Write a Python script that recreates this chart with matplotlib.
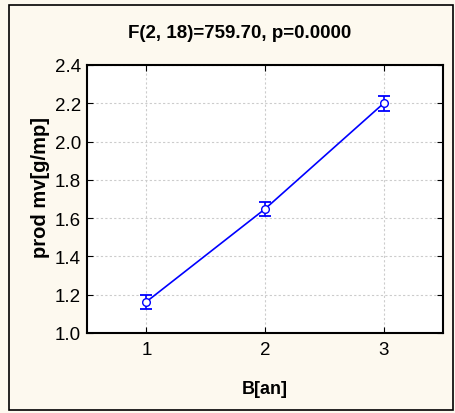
import matplotlib
matplotlib.use("Agg")
import matplotlib.pyplot as plt
from matplotlib.patches import Rectangle

# data
levels = [1, 2, 3]
means = [1.163, 1.648, 2.200]
errs = [0.038, 0.038, 0.040]
yticks = [1.0, 1.2, 1.4, 1.6, 1.8, 2.0, 2.2, 2.4]

plt.rcParams['font.family'] = ['Liberation Sans', 'DejaVu Sans']

W, H = 455, 414
fig = plt.figure(figsize=(W / 100, H / 100), dpi=100)
fig.patch.set_facecolor('#fdf9ef')

# outer frame
fig.patches.append(Rectangle((9 / W, 1 - 411 / H), 444 / W, 405 / H,
                             transform=fig.transFigure, fill=False,
                             edgecolor='black', linewidth=1.2))

ax = fig.add_axes([87 / W, 1 - 334 / H, (443 - 87) / W, (334 - 66) / H])
ax.set_facecolor('white')

ax.errorbar(levels, means, yerr=errs, color='blue', linewidth=1.2,
            marker='o', markersize=5.5, markerfacecolor='white',
            markeredgecolor='blue', capsize=4.3, capthick=1.3, elinewidth=1.2)

ax.set_xlim(0.5, 3.5)
ax.set_ylim(1.0, 2.4)
ax.set_xticks(levels)
ax.set_yticks(yticks)
ax.set_yticklabels([f'{v:.1f}' for v in yticks])
ax.grid(True, color='#cccccc', linestyle=(0, (2, 2)), linewidth=0.8)
ax.tick_params(direction='in', length=4, top=True, right=True, labelsize=13.5)
ax.tick_params(axis='y', pad=4.3)
ax.tick_params(axis='x', pad=6)
for s in ax.spines.values():
    s.set_linewidth(1.5)

fig.text(240 / W, 1 - 33 / H, 'F(2, 18)=759.70, p=0.0000', fontsize=13.5,
         fontweight='bold', ha='center', va='center')
fig.text(265 / W, 1 - 390 / H, 'B[an]', fontsize=13,
         fontweight='bold', ha='center', va='center')
fig.text(40 / W, 1 - 187 / H, 'prod mv[g/mp]', fontsize=14.5,
         fontweight='bold', ha='center', va='center', rotation=90)

fig.savefig('out.png', dpi=100, facecolor=fig.get_facecolor())
